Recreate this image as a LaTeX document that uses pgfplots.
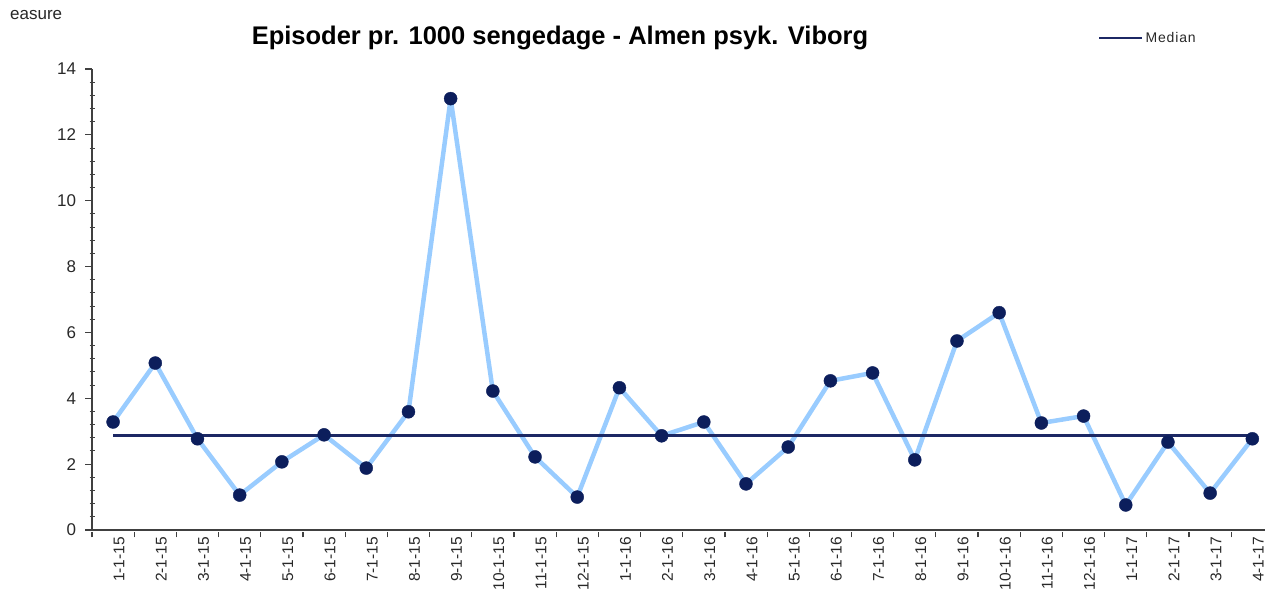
\documentclass[border=0pt]{standalone}
\usepackage{pgfplots}
\pgfplotsset{compat=1.18}
\usepackage{fontspec}
\setmainfont{Liberation Sans}
\definecolor{lineblue}{RGB}{153,204,255}
\definecolor{navy}{RGB}{12,30,92}
\definecolor{mednavy}{RGB}{28,40,100}
\definecolor{axgray}{RGB}{64,64,64}
\definecolor{txtgray}{RGB}{40,40,40}
\pgfplotstableread{
x y
0 3.28
1 5.07
2 2.77
3 1.06
4 2.07
5 2.89
6 1.88
7 3.59
8 13.1
9 4.22
10 2.22
11 1.00
12 4.32
13 2.86
14 3.28
15 1.40
16 2.52
17 4.53
18 4.77
19 2.13
20 5.74
21 6.60
22 3.25
23 3.46
24 0.76
25 2.67
26 1.12
27 2.77
}\datatable
\begin{document}
\begin{tikzpicture}[x=1pt,y=1pt]
\path[use as bounding box] (0,0) rectangle (1265,604);
\begin{axis}[
  at={(92pt,74pt)}, anchor=south west,
  scale only axis, width=1173pt, height=461pt,
  xmin=-0.5, xmax=27.3, ymin=0, ymax=14,
  axis lines=left,
  axis line style={axgray, line width=1.3pt, -},
  ytick={0,2,...,14}, minor y tick num=4,
  major tick length=7pt, minor tick length=5pt,
  major y tick style={axgray, line width=1.2pt, xshift=-3.5pt},
  minor y tick style={axgray, line width=1pt},
  xtick={0,...,27},
  xticklabels={1-1-15,2-1-15,3-1-15,4-1-15,5-1-15,6-1-15,7-1-15,8-1-15,9-1-15,10-1-15,11-1-15,12-1-15,1-1-16,2-1-16,3-1-16,4-1-16,5-1-16,6-1-16,7-1-16,8-1-16,9-1-16,10-1-16,11-1-16,12-1-16,1-1-17,2-1-17,3-1-17,4-1-17},
  major x tick style={draw=none},
  minor xtick={-0.5,0.5,...,27.5},
  minor x tick style={axgray, line width=1.2pt, yshift=-5pt},
  /pgf/number format/assume math mode=true,
  y tick label style={font=\fontsize{17}{17}\selectfont, text=txtgray, xshift=-9pt},
  x tick label style={font=\fontsize{15.5}{15.5}\selectfont, text=txtgray, rotate=90, anchor=east, yshift=-6pt},
  clip=false,
  legend style={at={(0.855,1.067)}, anchor=west, draw=none, fill=none,
    font=\fontsize{14}{14}\selectfont\addfontfeatures{LetterSpace=6}, text=txtgray},
  legend image code/.code={\draw[#1] (0pt,0pt) -- (43pt,0pt);},
]
\addplot[lineblue, line width=4.5pt, line join=round, no marks, forget plot] table[x=x,y=y]{\datatable};
\addplot[mednavy, line width=2.5pt, no marks] coordinates {(0,2.87) (27,2.87)};
\addlegendentry{Median}
\addplot[only marks, mark=*, mark size=6.5pt, mark options={fill=navy, draw=navy}, forget plot] table[x=x,y=y]{\datatable};
\end{axis}
\node[anchor=center, font=\bfseries\fontsize{25.5}{25.5}\selectfont, text=black] at (560,566) {Episoder pr. 1000 sengedage - Almen psyk. Viborg};
\node[anchor=west, font=\fontsize{17}{17}\selectfont, text=txtgray, inner sep=0pt] at (10,589) {easure};
\end{tikzpicture}
\end{document}
